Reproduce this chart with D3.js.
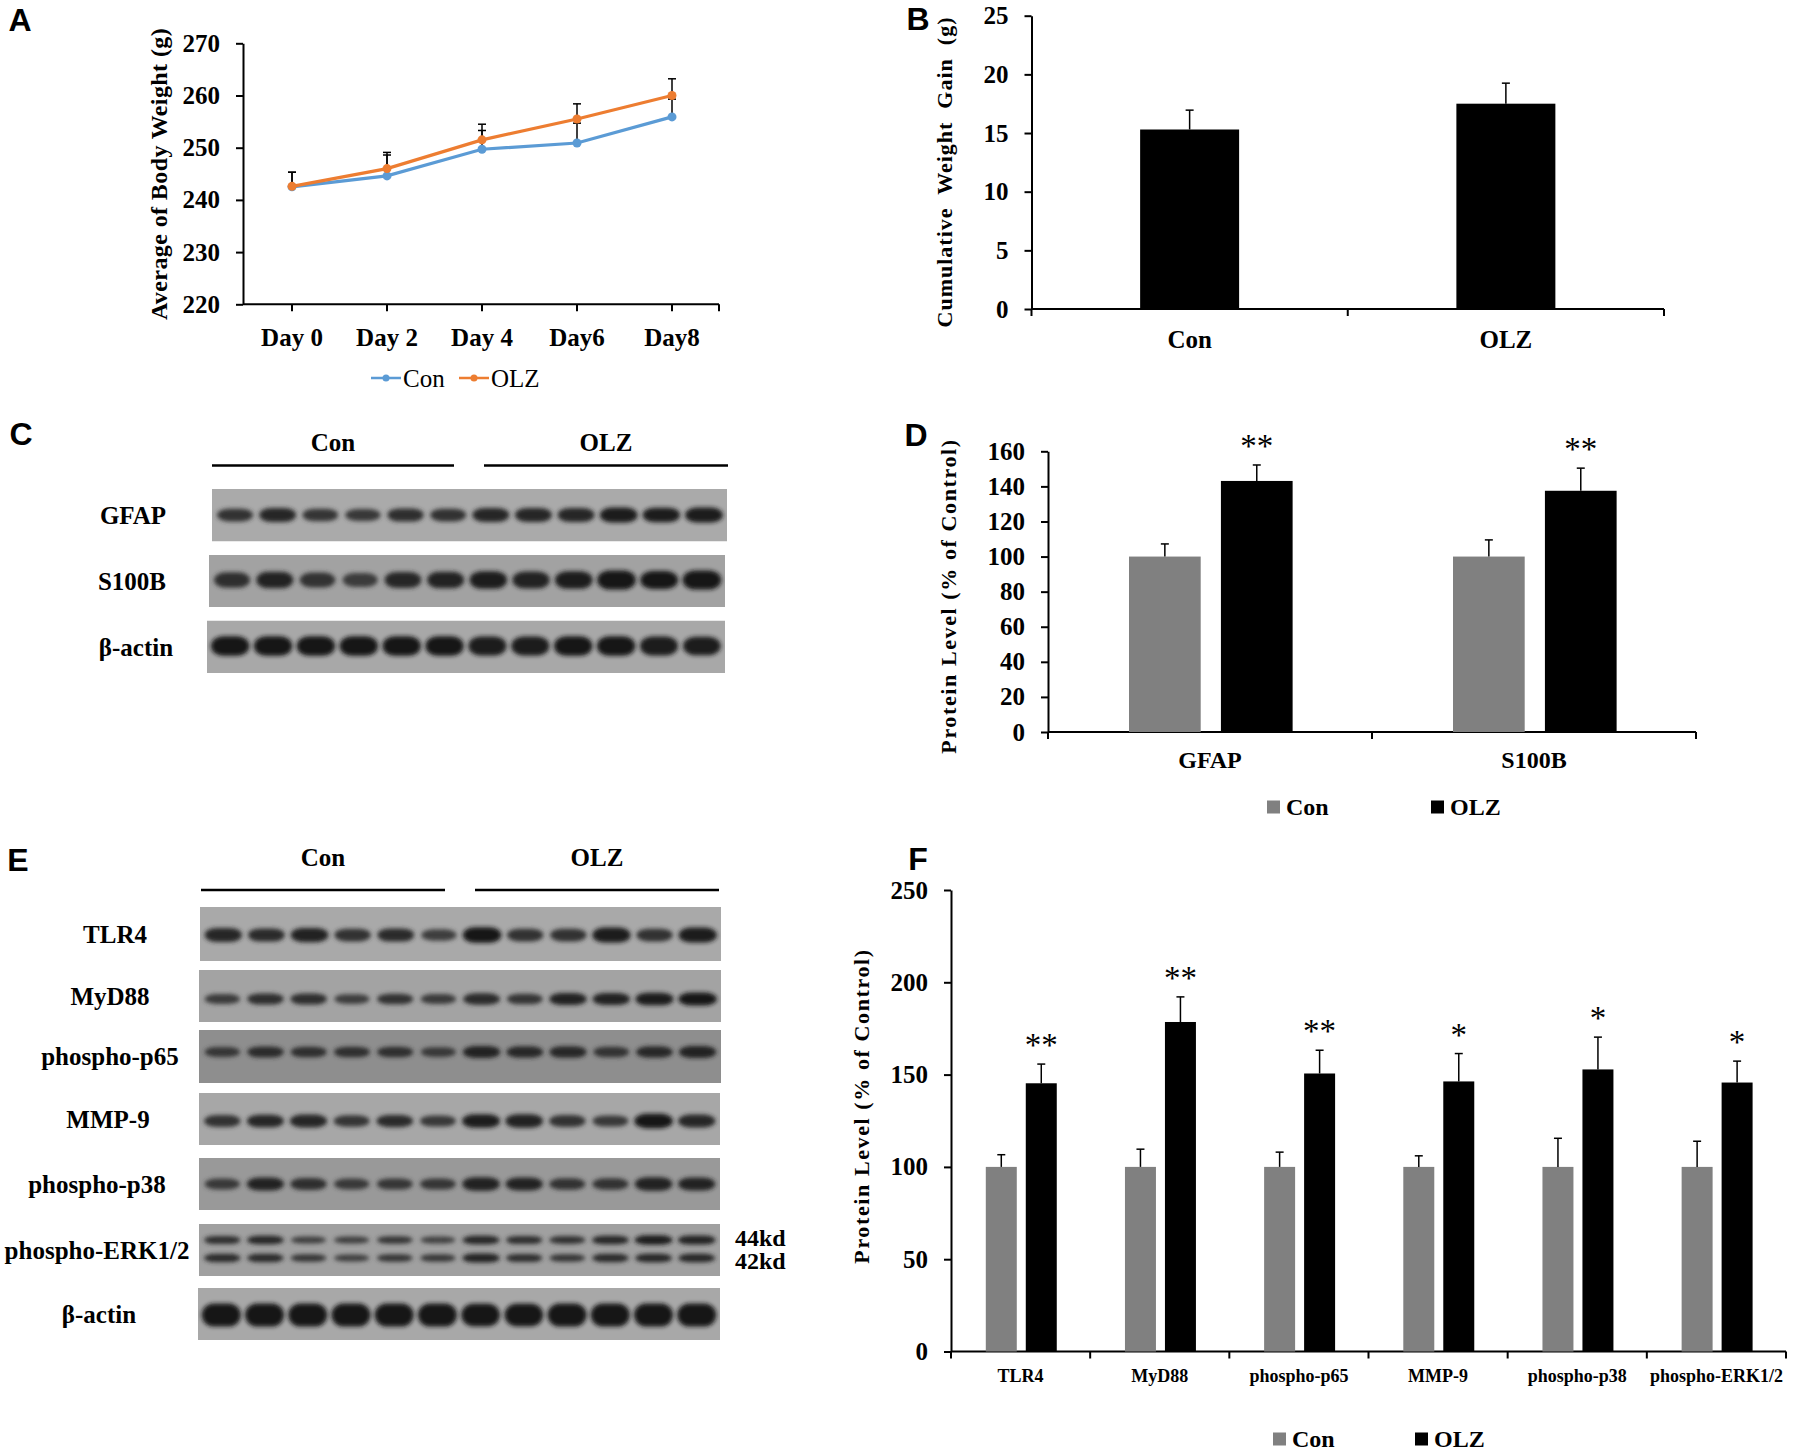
<!DOCTYPE html>
<html>
<head>
<meta charset="utf-8">
<script src="https://cdn.jsdelivr.net/npm/d3@7"></script>
<style>
  body { margin: 0; background: #fff; }
  svg text { font-family: "Liberation Serif", "Times New Roman", serif; font-weight: bold; fill: #000; }
  .letter { font-family: "Liberation Sans", Arial, sans-serif !important; font-size: 32px; }
</style>
</head>
<body>
<svg id="fig" width="1793" height="1451"></svg>
<script>
// ---------- data ----------
// A: body weight
const days = ["Day 0", "Day 2", "Day 4", "Day6", "Day8"];
const conWeight = [242.5, 244.6, 249.7, 250.9, 255.9];
const olzWeight = [242.6, 246.0, 251.5, 255.5, 260.0];
const conWeightErr = [2.8, 4.0, 3.6, 3.8, 3.4];
const olzWeightErr = [2.7, 3.1, 3.0, 2.9, 3.2];
const weightTicks = [220, 230, 240, 250, 260, 270];

// B: cumulative weight gain
const groups = ["Con", "OLZ"];
const weightGain = [15.3, 17.5];
const weightGainErr = [1.65, 1.75];
const gainTicks = [0, 5, 10, 15, 20, 25];

// D: astrocyte markers
const astroProteins = ["GFAP", "S100B"];
const astroCon = [100, 100];
const astroConErr = [7.2, 9.5];
const astroOlz = [143.1, 137.5];
const astroOlzErr = [9.1, 12.9];
const astroSig = ["**", "**"];
const astroTicks = [0, 20, 40, 60, 80, 100, 120, 140, 160];

// F: inflammatory signalling
const inflamProteins = ["TLR4", "MyD88", "phospho-p65", "MMP-9", "phospho-p38", "phospho-ERK1/2"];
const inflamCon = [100, 100, 100, 100, 100, 100];
const inflamConErr = [6.6, 9.6, 8.0, 6.0, 15.5, 13.9];
const inflamOlz = [145.3, 178.5, 150.6, 146.3, 152.8, 145.7];
const inflamOlzErr = [10.4, 13.6, 12.6, 15.1, 17.5, 11.6];
const inflamSig = ["**", "**", "**", "*", "*", "*"];
const inflamTicks = [0, 50, 100, 150, 200, 250];

// C / E: western blot band intensities (6 Con lanes, then 6 OLZ lanes)
const gfapBands   = [0.60, 0.75, 0.55, 0.50, 0.65, 0.60, 0.75, 0.75, 0.75, 0.90, 0.85, 0.90];
const s100bBands  = [0.60, 0.75, 0.55, 0.45, 0.70, 0.75, 0.85, 0.80, 0.85, 1.00, 0.90, 1.00];
const actinCBands = [0.95, 0.95, 0.95, 0.95, 0.95, 0.95, 0.90, 0.90, 0.95, 0.95, 0.90, 0.85];
const tlr4Bands   = [0.75, 0.65, 0.80, 0.60, 0.65, 0.45, 0.95, 0.60, 0.60, 0.90, 0.60, 0.90];
const myd88Bands  = [0.45, 0.60, 0.60, 0.40, 0.55, 0.45, 0.65, 0.50, 0.75, 0.75, 0.85, 0.90];
const p65Bands    = [0.45, 0.60, 0.55, 0.55, 0.55, 0.40, 0.75, 0.65, 0.70, 0.50, 0.65, 0.75];
const mmp9Bands   = [0.60, 0.70, 0.75, 0.55, 0.65, 0.50, 0.85, 0.80, 0.60, 0.50, 0.95, 0.75];
const p38Bands    = [0.45, 0.75, 0.60, 0.45, 0.50, 0.50, 0.80, 0.75, 0.55, 0.55, 0.80, 0.75];
const erk44Bands  = [0.60, 0.70, 0.40, 0.40, 0.50, 0.35, 0.70, 0.60, 0.55, 0.70, 0.85, 0.80];
const erk42Bands  = [0.65, 0.65, 0.50, 0.40, 0.50, 0.45, 0.75, 0.60, 0.50, 0.65, 0.70, 0.70];
const actinEBands = [1.00, 1.00, 1.00, 1.00, 1.00, 1.00, 0.95, 0.95, 1.00, 1.00, 1.00, 1.00];

// ---------- setup ----------
const svg = d3.select("#fig");
const conColor = "#5b9bd5", olzColor = "#ed7d31";
const barColor = d3.scaleOrdinal().domain(groups).range(["#808080", "#000000"]);

svg.append("defs").append("filter").attr("id", "blur")
  .attr("x", "-30%").attr("y", "-60%").attr("width", "160%").attr("height", "220%")
  .append("feGaussianBlur").attr("stdDeviation", 2.2);

function letter(t, x, y) {
  svg.append("text").attr("class", "letter").attr("x", x).attr("y", y)
    .attr("text-anchor", "middle").attr("dy", "0.36em").text(t);
}

function yAxis(g, y, ticks, x, size) {
  const ax = g.append("g").attr("transform", "translate(" + x + ",0)")
    .call(d3.axisLeft(y).tickValues(ticks).tickSize(7).tickSizeOuter(0).tickPadding(16));
  ax.attr("font-family", null).attr("font-size", null);
  ax.select(".domain").attr("stroke-width", 2);
  ax.selectAll(".tick line").attr("stroke-width", 2);
  ax.selectAll(".tick text").style("font-size", size + "px");
  return ax;
}

function yTitle(g, text, x, y, size, spacing) {
  g.append("text")
    .attr("transform", "translate(" + x + "," + y + ") rotate(-90)")
    .attr("text-anchor", "middle").attr("dy", "0.35em")
    .style("font-size", size + "px").style("letter-spacing", spacing + "px")
    .style("white-space", "pre")
    .text(text);
}

function errBar(g, x, yTop, yBase) {
  g.append("line").attr("x1", x).attr("x2", x).attr("y1", yBase).attr("y2", yTop)
    .attr("stroke", "#000").attr("stroke-width", 1.5);
  g.append("line").attr("x1", x - 4).attr("x2", x + 4).attr("y1", yTop).attr("y2", yTop)
    .attr("stroke", "#000").attr("stroke-width", 1.5);
}

// ---------- A: line chart ----------
(function () {
  const g = svg.append("g");
  const y = d3.scaleLinear().domain([220, 270]).range([304.3, 43.3]);
  const x = d3.scalePoint().domain(days).range([292, 672]);
  const x0 = 243, x1 = 719;

  yAxis(g, y, weightTicks, x0, 25);
  g.append("line").attr("x1", x0).attr("x2", x1).attr("y1", y(220)).attr("y2", y(220))
    .attr("stroke", "#000").attr("stroke-width", 2);
  g.selectAll(".xt").data(days.map(d => x(d)).concat([x1])).join("line")
    .attr("x1", d => d).attr("x2", d => d).attr("y1", y(220)).attr("y2", y(220) + 7)
    .attr("stroke", "#000").attr("stroke-width", 2);
  g.selectAll(".xl").data(days).join("text")
    .attr("x", d => x(d)).attr("y", 337).attr("dy", "0.35em").attr("text-anchor", "middle")
    .style("font-size", "25px").text(d => d);

  const series = [
    { vals: conWeight, err: conWeightErr, color: conColor },
    { vals: olzWeight, err: olzWeightErr, color: olzColor }
  ];
  series.forEach(s => s.vals.forEach((v, i) => errBar(g, x(days[i]), y(v + s.err[i]), y(v))));
  const line = d3.line().x((d, i) => x(days[i])).y(d => y(d));
  series.forEach(s => {
    g.append("path").attr("d", line(s.vals)).attr("fill", "none")
      .attr("stroke", s.color).attr("stroke-width", 3.2);
    g.selectAll(null).data(s.vals).join("circle")
      .attr("cx", (d, i) => x(days[i])).attr("cy", d => y(d)).attr("r", 4.5).attr("fill", s.color);
  });

  yTitle(g, "Average of Body Weight (g)", 159, 174, 24, 0.4);

  // legend
  const leg = [{ name: "Con", color: conColor, x: 371 }, { name: "OLZ", color: olzColor, x: 459 }];
  leg.forEach(l => {
    g.append("line").attr("x1", l.x).attr("x2", l.x + 30).attr("y1", 378).attr("y2", 378)
      .attr("stroke", l.color).attr("stroke-width", 2.5);
    g.append("circle").attr("cx", l.x + 15).attr("cy", 378).attr("r", 3.5).attr("fill", l.color);
    g.append("text").attr("x", l.x + 32).attr("y", 378).attr("dy", "0.35em")
      .style("font-size", "25px").style("font-weight", "normal").text(l.name);
  });
  letter("A", 20, 19);
})();

// ---------- generic bar chart ----------
function barChart(opt) {
  const g = svg.append("g");
  const y = d3.scaleLinear().domain(opt.domain).range(opt.yRange);
  const x0 = d3.scaleBand().domain(opt.cats).range(opt.xRange);
  const bw = x0.bandwidth();
  const x1 = d3.scaleBand().domain(opt.series.map(s => s.name))
    .range([bw * opt.inner[0], bw * opt.inner[1]]).paddingInner(opt.gap);

  yAxis(g, y, opt.ticks, opt.xRange[0], opt.tickSize);
  const y0 = y(0);
  g.append("line").attr("x1", opt.xRange[0]).attr("x2", opt.xRange[1]).attr("y1", y0).attr("y2", y0)
    .attr("stroke", "#000").attr("stroke-width", 2);
  g.selectAll(".xt").data(opt.cats.map(c => x0(c)).concat([opt.xRange[1]])).join("line")
    .attr("x1", d => d).attr("x2", d => d).attr("y1", y0).attr("y2", y0 + 7)
    .attr("stroke", "#000").attr("stroke-width", 2);

  opt.series.forEach(s => {
    g.selectAll(null).data(opt.cats).join("rect")
      .attr("x", c => x0(c) + x1(s.name)).attr("width", x1.bandwidth())
      .attr("y", (c, i) => y(s.vals[i])).attr("height", (c, i) => y0 - y(s.vals[i]))
      .attr("fill", s.color);
    opt.cats.forEach((c, i) => {
      const cx = x0(c) + x1(s.name) + x1.bandwidth() / 2;
      errBar(g, cx, y(s.vals[i] + s.err[i]), y(s.vals[i]));
      if (s.sig) {
        g.append("text").attr("x", cx).attr("y", y(s.vals[i] + s.err[i]) - 8)
          .attr("text-anchor", "middle").style("font-weight", "normal").style("font-size", "33px")
          .text(s.sig[i]);
      }
    });
  });

  g.selectAll(".xl").data(opt.cats).join("text")
    .attr("x", c => x0(c) + bw / 2).attr("y", opt.labelY).attr("dy", "0.35em")
    .attr("text-anchor", "middle").style("font-size", opt.labelSize + "px").text(c => c);

  yTitle(g, opt.title, opt.titleX, opt.titleY, opt.titleSize, opt.titleSpacing);

  if (opt.legend) {
    opt.series.forEach((s, i) => {
      const lx = opt.legend.x[i];
      g.append("rect").attr("x", lx).attr("y", opt.legend.y - 6.5).attr("width", 13).attr("height", 13)
        .attr("fill", s.color);
      g.append("text").attr("x", lx + 19).attr("y", opt.legend.y).attr("dy", "0.35em")
        .style("font-size", "24px").text(s.name);
    });
  }
}

// ---------- B ----------
(function () {
  const g = svg.append("g");
  const y = d3.scaleLinear().domain([0, 25]).range([309, 15.7]);
  const x = d3.scaleBand().domain(groups).range([1031.5, 1664]);
  yAxis(g, y, gainTicks, 1031.5, 25);
  g.append("line").attr("x1", 1031.5).attr("x2", 1664).attr("y1", y(0)).attr("y2", y(0))
    .attr("stroke", "#000").attr("stroke-width", 2);
  g.selectAll(".xt").data(groups.map(c => x(c)).concat([1664])).join("line")
    .attr("x1", d => d).attr("x2", d => d).attr("y1", y(0)).attr("y2", y(0) + 7)
    .attr("stroke", "#000").attr("stroke-width", 2);
  const w = x.bandwidth() * 0.313;
  g.selectAll(null).data(groups).join("rect")
    .attr("x", c => x(c) + x.bandwidth() / 2 - w / 2).attr("width", w)
    .attr("y", (c, i) => y(weightGain[i])).attr("height", (c, i) => y(0) - y(weightGain[i]))
    .attr("fill", "#000");
  groups.forEach((c, i) => errBar(g, x(c) + x.bandwidth() / 2, y(weightGain[i] + weightGainErr[i]), y(weightGain[i])));
  g.selectAll(".xl").data(groups).join("text")
    .attr("x", c => x(c) + x.bandwidth() / 2).attr("y", 339).attr("dy", "0.35em")
    .attr("text-anchor", "middle").style("font-size", "25px").text(c => c);
  yTitle(g, "Cumulative  Weight  Gain  (g)", 944, 172, 22, 1.0);
  letter("B", 918, 18);
})();

// ---------- D ----------
barChart({
  cats: astroProteins, domain: [0, 160], yRange: [732, 451.3], xRange: [1048, 1696],
  ticks: astroTicks, tickSize: 25, inner: [0.25, 0.755], gap: 0.22,
  series: [
    { name: "Con", vals: astroCon, err: astroConErr, color: barColor("Con") },
    { name: "OLZ", vals: astroOlz, err: astroOlzErr, color: barColor("OLZ"), sig: astroSig }
  ],
  labelY: 760, labelSize: 24,
  title: "Protein Level (% of Control)", titleX: 948, titleY: 596, titleSize: 22, titleSpacing: 1.6,
  legend: { x: [1267, 1431], y: 807 }
});
letter("D", 916, 434);

// ---------- F ----------
barChart({
  cats: inflamProteins, domain: [0, 250], yRange: [1351.5, 890], xRange: [951, 1786],
  ticks: inflamTicks, tickSize: 25, inner: [0.25, 0.76], gap: 0.225,
  series: [
    { name: "Con", vals: inflamCon, err: inflamConErr, color: barColor("Con") },
    { name: "OLZ", vals: inflamOlz, err: inflamOlzErr, color: barColor("OLZ"), sig: inflamSig }
  ],
  labelY: 1376, labelSize: 18,
  title: "Protein Level (% of Control)", titleX: 861, titleY: 1106, titleSize: 22, titleSpacing: 1.6,
  legend: { x: [1273, 1415], y: 1439 }
});
letter("F", 918, 858);

// ---------- western blots ----------
let clipId = 0;
function drawBlot(box, rows) {
  const id = "clip" + (clipId++);
  svg.select("defs").append("clipPath").attr("id", id)
    .append("rect").attr("x", box.x0).attr("y", box.y0)
    .attr("width", box.x1 - box.x0).attr("height", box.y1 - box.y0);
  const g = svg.append("g").attr("clip-path", "url(#" + id + ")");
  g.append("rect").attr("x", box.x0).attr("y", box.y0)
    .attr("width", box.x1 - box.x0).attr("height", box.y1 - box.y0).attr("fill", box.bg);
  const lane = d3.scaleBand().domain(d3.range(12)).range([box.x0 + 3, box.x1 - 3]).paddingInner(0.06);
  const shade = d3.scaleLinear().domain([0, 1]).range([box.bg, "#121212"]).interpolate(d3.interpolateRgb);
  rows.forEach(row => {
    g.selectAll(null).data(row.vals).join("rect")
      .attr("x", (d, i) => lane(i) + lane.bandwidth() * (0.5 - (0.40 + 0.08 * d)))
      .attr("width", d => lane.bandwidth() * 2 * (0.40 + 0.08 * d))
      .attr("y", d => row.y - row.h * (0.55 + 0.5 * d))
      .attr("height", d => 2 * row.h * (0.55 + 0.5 * d))
      .attr("rx", d => lane.bandwidth() * 0.3)
      .attr("ry", d => row.h * (0.55 + 0.5 * d))
      .attr("fill", d => shade(0.5 + 0.5 * d))
      .attr("filter", "url(#blur)");
  });
}

function groupHeader(y, textY, con, olz) {
  [con, olz].forEach((seg, i) => {
    svg.append("line").attr("x1", seg[0]).attr("x2", seg[1]).attr("y1", y).attr("y2", y)
      .attr("stroke", "#000").attr("stroke-width", 2.5);
    svg.append("text").attr("x", (seg[0] + seg[1]) / 2).attr("y", textY).attr("dy", "0.35em")
      .attr("text-anchor", "middle").style("font-size", "25px").text(groups[i]);
  });
}

function blotLabel(t, x, y) {
  svg.append("text").attr("x", x).attr("y", y).attr("dy", "0.35em")
    .attr("text-anchor", "middle").style("font-size", "25px").text(t);
}

// C
letter("C", 21, 433);
groupHeader(465.5, 442, [212, 454], [484, 728]);
const blotsC = [
  { name: "GFAP", box: { x0: 212, x1: 727, y0: 489, y1: 541.5, bg: "#aaaaaa" }, rows: [{ vals: gfapBands, y: 515, h: 7.5 }], lx: 133 },
  { name: "S100B", box: { x0: 209, x1: 725, y0: 555, y1: 607, bg: "#a2a2a2" }, rows: [{ vals: s100bBands, y: 580, h: 9 }], lx: 132 },
  { name: "β-actin", box: { x0: 207, x1: 725, y0: 620.5, y1: 673, bg: "#a8a8a8" }, rows: [{ vals: actinCBands, y: 646, h: 9.5 }], lx: 136 }
];
blotsC.forEach(b => { drawBlot(b.box, b.rows); blotLabel(b.name, b.lx, (b.box.y0 + b.box.y1) / 2); });

// E
letter("E", 18, 859);
groupHeader(890, 857, [201, 445], [475, 719]);
const blotsE = [
  { name: "TLR4", box: { x0: 200, x1: 721, y0: 907, y1: 961, bg: "#a9a9a9" }, rows: [{ vals: tlr4Bands, y: 935, h: 7.5 }], lx: 115 },
  { name: "MyD88", box: { x0: 199, x1: 721, y0: 970, y1: 1022, bg: "#a3a3a3" }, rows: [{ vals: myd88Bands, y: 999, h: 6.5 }], lx: 110 },
  { name: "phospho-p65", box: { x0: 199, x1: 721, y0: 1030, y1: 1083, bg: "#8e8e8e" }, rows: [{ vals: p65Bands, y: 1052, h: 6.5 }], lx: 110 },
  { name: "MMP-9", box: { x0: 199, x1: 720, y0: 1093, y1: 1145, bg: "#a7a7a7" }, rows: [{ vals: mmp9Bands, y: 1121, h: 7 }], lx: 108 },
  { name: "phospho-p38", box: { x0: 199, x1: 720, y0: 1158, y1: 1210, bg: "#999999" }, rows: [{ vals: p38Bands, y: 1184, h: 7 }], lx: 97 },
  { name: "phospho-ERK1/2", box: { x0: 199, x1: 720, y0: 1224, y1: 1276, bg: "#a0a0a0" },
    rows: [{ vals: erk44Bands, y: 1240, h: 4.8 }, { vals: erk42Bands, y: 1258, h: 4.8 }], lx: 97 },
  { name: "β-actin", box: { x0: 198, x1: 720, y0: 1288, y1: 1340, bg: "#a8a8a8" }, rows: [{ vals: actinEBands, y: 1315, h: 11 }], lx: 99 }
];
blotsE.forEach(b => { drawBlot(b.box, b.rows); blotLabel(b.name, b.lx, (b.box.y0 + b.box.y1) / 2); });
svg.append("text").attr("x", 735).attr("y", 1238).attr("dy", "0.35em").style("font-size", "24px").text("44kd");
svg.append("text").attr("x", 735).attr("y", 1261).attr("dy", "0.35em").style("font-size", "24px").text("42kd");
</script>
</body>
</html>
